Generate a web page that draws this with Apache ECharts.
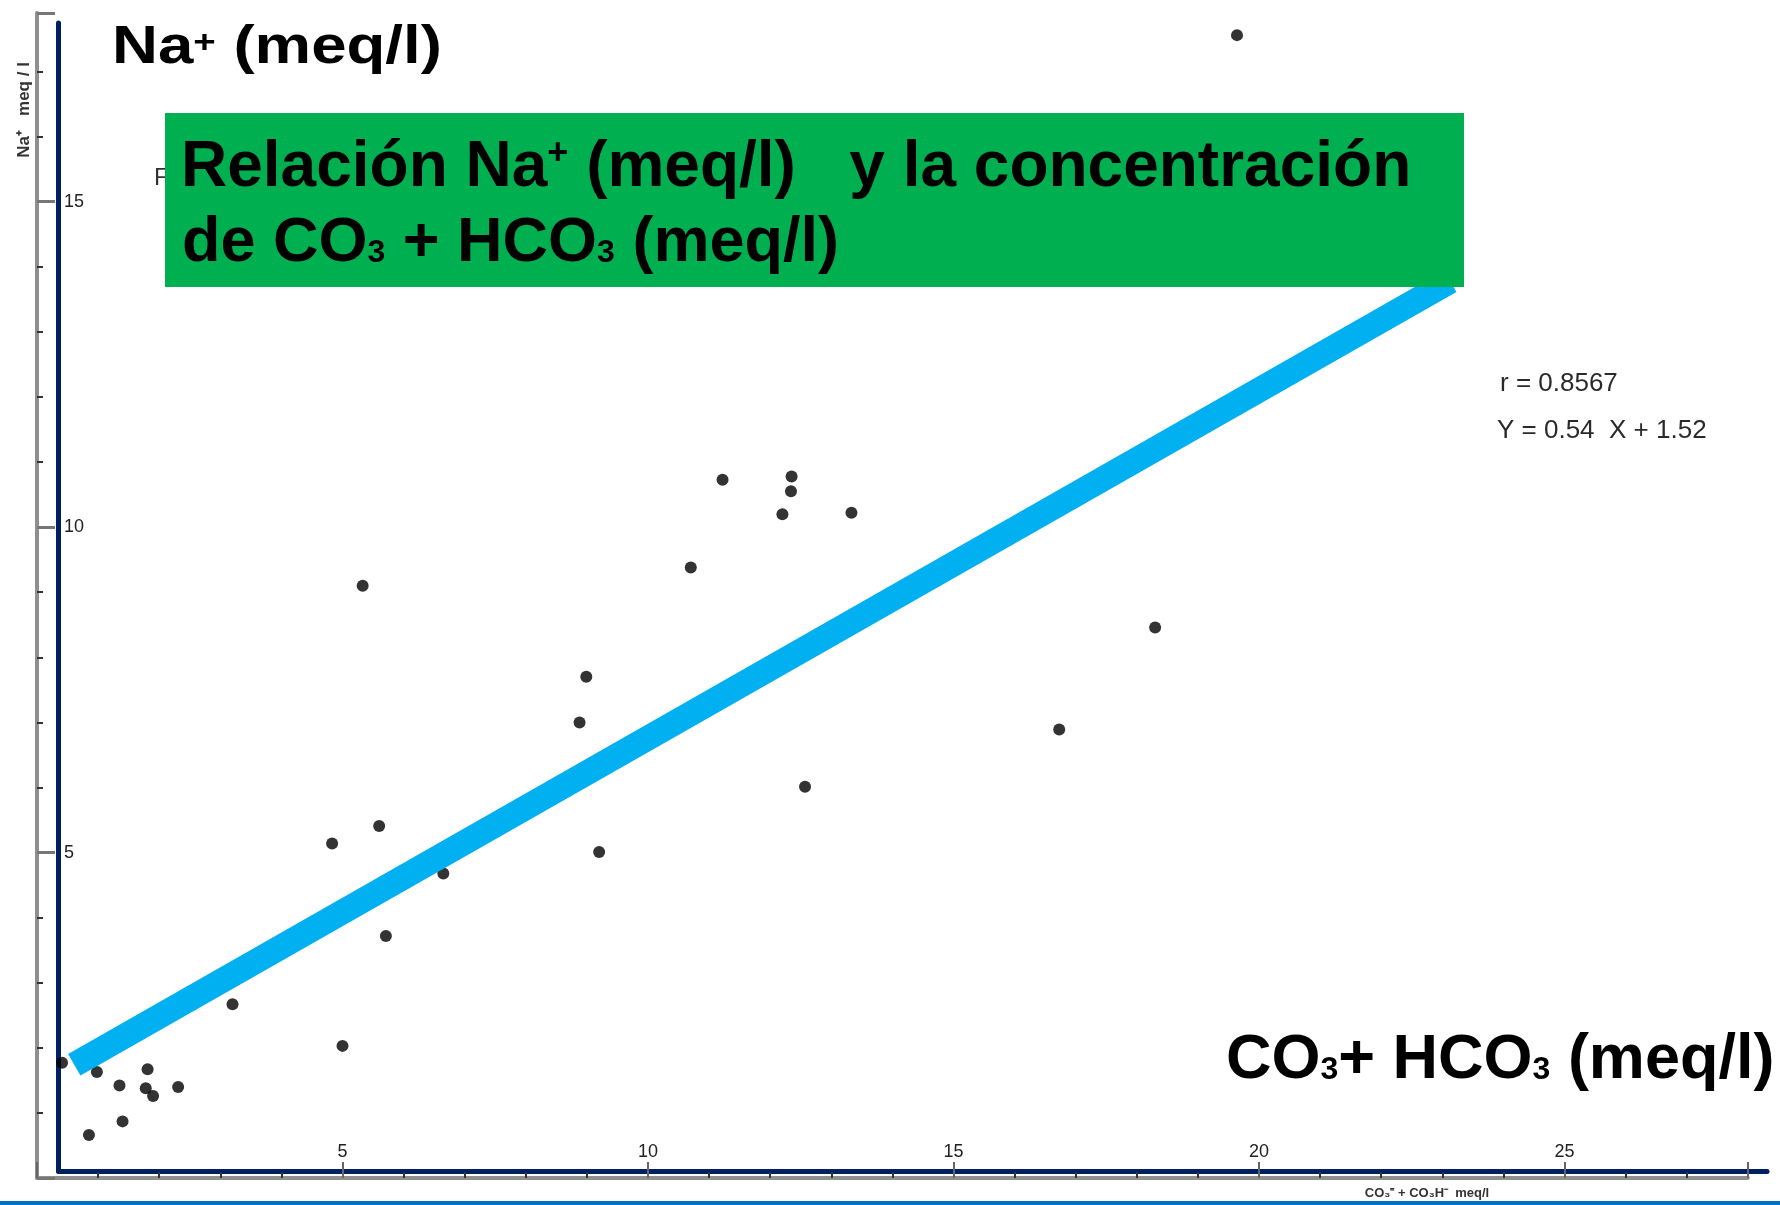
<!DOCTYPE html>
<html>
<head>
<meta charset="utf-8">
<script src="https://cdn.jsdelivr.net/npm/echarts@6/dist/echarts.min.js"></script>
<style>
html,body{margin:0;padding:0;background:#ffffff;}
#chart{width:1780px;height:1205px;}
</style>
</head>
<body>
<div id="chart"></div>
<script>
// ---- Data ----
// x: CO3 + HCO3 (meq/l), y: Na+ (meq/l)
const co3Hco3 = [0.41, 0.85, 0.98, 1.35, 1.40, 1.78, 1.81, 1.90, 2.31, 3.20,
                 5.00, 5.71, 6.65, 4.83, 5.60, 9.20, 8.88, 8.99, 5.33, 10.70,
                 12.20, 13.33, 12.34, 11.22, 12.35, 12.57, 16.73, 18.30, 19.64];
const sodium  = [1.77, 0.66, 1.63, 1.42, 0.87, 1.38, 1.67, 1.26, 1.40, 2.67,
                 2.03, 3.72, 4.68, 5.14, 5.41, 5.01, 7.00, 7.70, 9.10, 9.38,
                 10.20, 10.22, 10.55, 10.73, 10.78, 6.01, 6.89, 8.46, 17.56];
// hand-drawn regression band (end points)
const fitX = [0.61, 23.13];
const fitY = [1.74, 13.78];
// scanned axis tick labels
const xTickLabels = [5, 10, 15, 20, 25];
const yTickLabels = [5, 10, 15];
const statR = 'r = 0.8567';
const statEq = 'Y = 0.54  X + 1.52';

const scatterData = co3Hco3.map((x, i) => [x, sodium[i]]);
const fitData = fitX.map((x, i) => [x, fitY[i]]);

const chart = echarts.init(document.getElementById('chart'), null, {renderer: 'canvas'});

const boldFont = "'Liberation Sans', Arial, sans-serif";
const big = {fontSize: 63, fontWeight: 'bold', fontFamily: boldFont, fill: '#000'};
const big64 = {fontSize: 64, fontWeight: 'bold', fontFamily: boldFont, fill: '#000'};
const sub = {fontSize: 32, fontWeight: 'bold', fontFamily: boldFont, fill: '#000', verticalAlign: 'bottom', padding: [0, 0, 6, 0]};

const option = {
  backgroundColor: '#ffffff',
  animation: false,
  grid: [
    {left: 37, right: 32.2, top: 13, bottom: 27, containLabel: false, outerBoundsMode: 'none'},
    {left: 58.5, right: 13, top: 23, bottom: 34, containLabel: false, outerBoundsMode: 'none'}
  ],
  xAxis: [
    {
      type: 'value', gridIndex: 0, min: 0, max: 28, interval: 5,
      axisLine: {show: true, onZero: false, lineStyle: {color: '#8f8f8f', width: 4}},
      axisTick: {show: true, inside: true, length: 16, lineStyle: {color: '#666', width: 2}},
      minorTick: {show: true, splitNumber: 5, length: 6, lineStyle: {color: '#333', width: 2}},
      axisLabel: {
        show: true, inside: true, margin: 17, fontSize: 18, color: '#222',
        fontFamily: "'Liberation Sans Narrow','Liberation Sans',sans-serif",
        showMaxLabel: false,
        formatter: v => (xTickLabels.indexOf(v) >= 0 ? String(v) : '')
      },
      splitLine: {show: false}
    },
    {
      type: 'value', gridIndex: 1, min: 0.3519, max: 28.314,
      axisLine: {show: true, onZero: false, lineStyle: {color: '#002060', width: 5}},
      axisTick: {show: false}, axisLabel: {show: false}, splitLine: {show: false}
    }
  ],
  yAxis: [
    {
      type: 'value', gridIndex: 0, min: 0, max: 17.9, interval: 5,
      axisLine: {show: true, onZero: false, lineStyle: {color: '#8f8f8f', width: 4}},
      axisTick: {show: true, inside: true, length: 18, lineStyle: {color: '#777', width: 3}},
      minorTick: {show: true, splitNumber: 5, length: 6, lineStyle: {color: '#333', width: 2}},
      axisLabel: {
        show: true, inside: true, margin: 27, fontSize: 18, color: '#222',
        fontFamily: "'Liberation Sans Narrow','Liberation Sans',sans-serif",
        showMaxLabel: false,
        formatter: v => (yTickLabels.indexOf(v) >= 0 ? String(v) : '')
      },
      splitLine: {show: false}
    },
    {
      type: 'value', gridIndex: 1, min: 0.1076, max: 17.747,
      axisLine: {show: true, onZero: false, lineStyle: {color: '#002060', width: 5}},
      axisTick: {show: false}, axisLabel: {show: false}, splitLine: {show: false}
    }
  ],
  series: [
    {
      type: 'scatter', xAxisIndex: 0, yAxisIndex: 0,
      data: scatterData, symbol: 'circle', symbolSize: 12,
      itemStyle: {color: '#000'}, z: 2, silent: true
    },
    {
      type: 'line', xAxisIndex: 0, yAxisIndex: 0,
      data: fitData, symbol: 'none', silent: true,
      lineStyle: {color: '#00B0F0', width: 25, cap: 'butt'}, z: 3
    }
  ],
  graphic: {
    elements: [
      // stray fragment of the scanned original title
      {type: 'text', x: 154, y: 166, z: 1, silent: true,
       style: {text: 'F', fontSize: 24, fontFamily: boldFont, fill: '#333', verticalAlign: 'top'}},
      // green title box
      {type: 'rect', z: 100, silent: true,
       shape: {x: 165, y: 113, width: 1299, height: 174},
       style: {fill: '#00B050'}},
      {type: 'text', x: 181, y: 136, z: 101, silent: true,
       style: {
         text: '{b|Relación Na}{p|+}{b| (meq/l)   y la concentración}',
         verticalAlign: 'top',
         rich: {b: big64, p: {fontSize: 36, fontWeight: 'bold', fontFamily: boldFont, fill: '#000', verticalAlign: 'top'}}
       }},
      {type: 'text', x: 182, y: 212, z: 101, silent: true,
       style: {
         text: '{b|de CO}{s|3}{b| + HCO}{s|3}{b| (meq/l)}',
         verticalAlign: 'top',
         rich: {b: big, s: sub}
       }},
      // top-left axis title (horizontally stretched in the original)
      {type: 'text', x: 112, y: 22, scaleX: 1.2, z: 101, silent: true,
       style: {
         text: '{b|Na}{p|+}{b| (meq/l)}',
         verticalAlign: 'top',
         rich: {b: {fontSize: 53, fontWeight: 'bold', fontFamily: boldFont, fill: '#000'},
                p: {fontSize: 32, fontWeight: 'bold', fontFamily: boldFont, fill: '#000', padding: [0, 0, 10, 0]}}
       }},
      // bottom-right axis title
      {type: 'text', x: 1226, y: 1029, z: 101, silent: true,
       style: {
         text: '{b|CO}{s|3}{b|+ HCO}{s|3}{b| (meq/l)}',
         verticalAlign: 'top',
         rich: {b: big, s: sub}
       }},
      // regression statistics from the scan
      {type: 'text', x: 1500, y: 371, z: 50, silent: true,
       style: {text: statR, fontSize: 26, fontFamily: "'Liberation Sans',sans-serif", fill: '#2a2a2a', verticalAlign: 'top'}},
      {type: 'text', x: 1497, y: 418, z: 50, silent: true,
       style: {text: statEq, fontSize: 26, fontFamily: "'Liberation Sans',sans-serif", fill: '#2a2a2a', verticalAlign: 'top'}},
      // scanned small axis names
      {type: 'text', x: 24, y: 110, rotation: Math.PI / 2, z: 50, silent: true,
       style: {text: 'Na⁺   meq / l', fontSize: 17, fontWeight: 'bold', fontFamily: "'Liberation Sans Narrow','Liberation Sans',sans-serif",
               fill: '#333', align: 'center', verticalAlign: 'middle'}},
      {type: 'text', x: 1427, y: 1193, z: 50, silent: true,
       style: {text: 'CO₃⁼ + CO₃H⁻  meq/l', fontSize: 13, fontWeight: 'bold', fontFamily: "'Liberation Sans Narrow','Liberation Sans',sans-serif",
               fill: '#333', align: 'center', verticalAlign: 'middle'}},
      // slide border line at the bottom
      {type: 'rect', z: 100, silent: true,
       shape: {x: 0, y: 1201, width: 1780, height: 4},
       style: {fill: '#0070C0'}}
    ]
  }
};

chart.setOption(option);
</script>
</body>
</html>
